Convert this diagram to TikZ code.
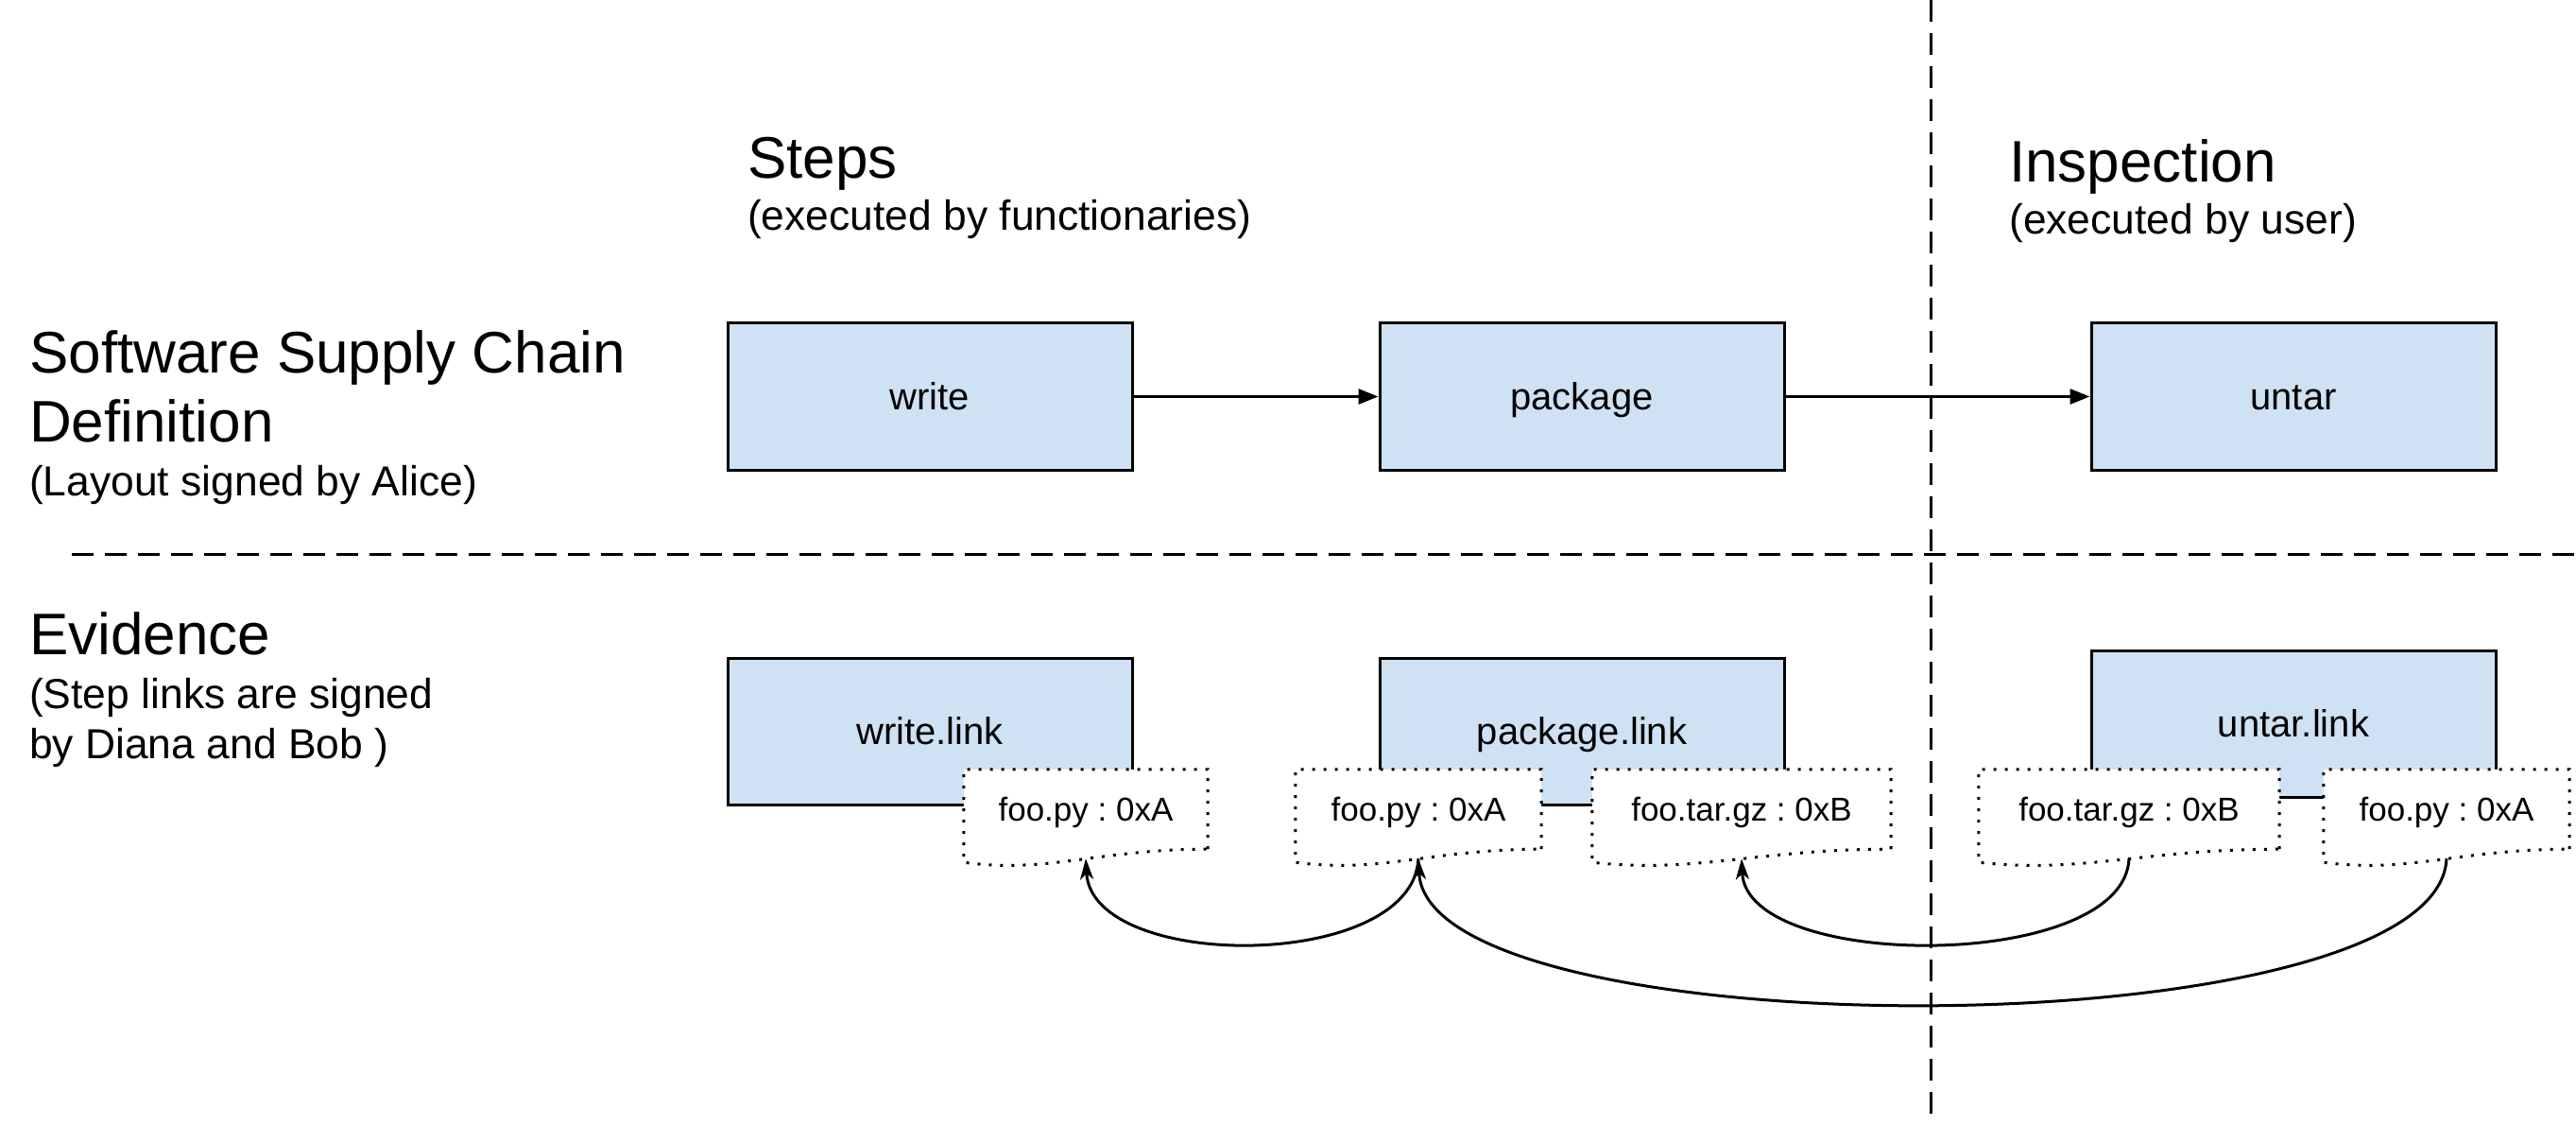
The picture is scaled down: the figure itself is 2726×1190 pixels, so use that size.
\documentclass[tikz,border=0pt]{standalone}
\usepackage{fontspec}
\setmainfont{Liberation Sans}
\usetikzlibrary{arrows.meta,calc}
\pgfdeclarelayer{bg}\pgfdeclarelayer{mid}
\pgfsetlayers{bg,mid,main}
\definecolor{boxblue}{HTML}{CFE2F3}
\frenchspacing
\begin{document}
\begin{tikzpicture}[x=1pt,y=-1pt,
  stepbox/.style={draw=black, line width=3pt, fill=boxblue, minimum width=428pt, minimum height=155pt, inner sep=0pt, text height=36.2pt, text depth=8.5pt, font=\fontsize{40}{48}\selectfont},
  doc/.style={minimum width=#1, minimum height=84pt, inner sep=0pt, text height=31.7pt, text depth=7.4pt, font=\fontsize{35}{42}\selectfont},
  docline/.style={draw=black, fill=white, line width=3pt, dash pattern=on 3pt off 9pt},
  sep/.style={line width=3pt, dash pattern=on 23pt off 12pt},
  flow/.style={line width=3pt, -{Triangle[length=21pt,width=16pt]}},
  trace/.style={line width=3pt, -{Stealth[length=22pt,width=14pt,inset=6pt]}},
  big/.style={anchor=base west, inner sep=0pt, font=\fontsize{62}{74}\selectfont},
  small/.style={anchor=base west, inner sep=0pt, font=\fontsize{44.4}{52}\selectfont}]
\useasboundingbox (0,0) rectangle (2726,1190);

% titles
\node[big] (steps) at (791,189) {Steps};
\node[small] (stepsub) at (791,244) {(executed by functionaries)};
\node[big] (insp) at (2126,193) {Inspection};
\node[small] (inspsub) at (2126,248) {(executed by user)};
\node[big] (sscd1) at (31,394) {Software Supply Chain};
\node[big] (sscd2) at (31,467) {Definition};
\node[small] (layout) at (31,524) {(Layout signed by Alice)};
\node[big] (evid) at (31,692) {Evidence};
\node[small] (ev1) at (31,749) {(Step links are signed};
\node[small] (ev2) at (31,802) {by Diana and Bob )};

\begin{pgfonlayer}{bg}
\coordinate (vt) at (2043,0); \coordinate (vb) at (2043,1190);
\coordinate (hl) at (76,586); \coordinate (hr) at (2726,586);
\draw[sep] (vt) -- (vb);
\draw[sep] (hl) -- (hr);
\node[stepbox] (write) at (984,419.5) {write};
\node[stepbox] (package) at (1674,419.5) {package};
\node[stepbox] (untar) at (2427,419.5) {untar};
\node[stepbox] (writelink) at (984,774) {write.link};
\node[stepbox] (packagelink) at (1674,774) {package.link};
\node[stepbox] (untarlink) at (2427,765.5) {untar.link};
\end{pgfonlayer}

\draw[flow] (write) -- (package);
\draw[flow] (package) -- (untar);

% evidence documents
\node[doc=258pt] (d1) at (1149,856) {foo.py : 0xA};
\node[doc=260pt] (d2) at (1501,856) {foo.py : 0xA};
\node[doc=316pt] (d3) at (1843,856) {foo.tar.gz : 0xB};
\node[doc=318pt] (d4) at (2253,856) {foo.tar.gz : 0xB};
\node[doc=260pt] (d5) at (2589,856) {foo.py : 0xA};

\begin{pgfonlayer}{mid}
\foreach \d in {d1,d2,d3,d4,d5}{
  \draw[docline] (\d.south east) -- (\d.north east) -- (\d.north west) -- ($(\d.south west)+(0,14)$)
    .. controls ($(\d.south west)!0.35!(\d.south east)+(0,26)$) and ($(\d.south west)!0.55!(\d.south east)$) .. (\d.south east);
}
\end{pgfonlayer}

\draw[trace] ($(d2.south)+(0,10)$) .. controls +(-6,120) and +(6,120) .. ($(d1.south)+(0,10)$);
\draw[trace] ($(d4.south)+(0,10)$) .. controls +(-5,120) and +(5,120) .. ($(d3.south)+(0,10)$);
\draw[trace] ($(d5.south)+(0,10)$) .. controls +(-9,205) and +(9,205) .. ($(d2.south)+(0,10)$);
\end{tikzpicture}
\end{document}
